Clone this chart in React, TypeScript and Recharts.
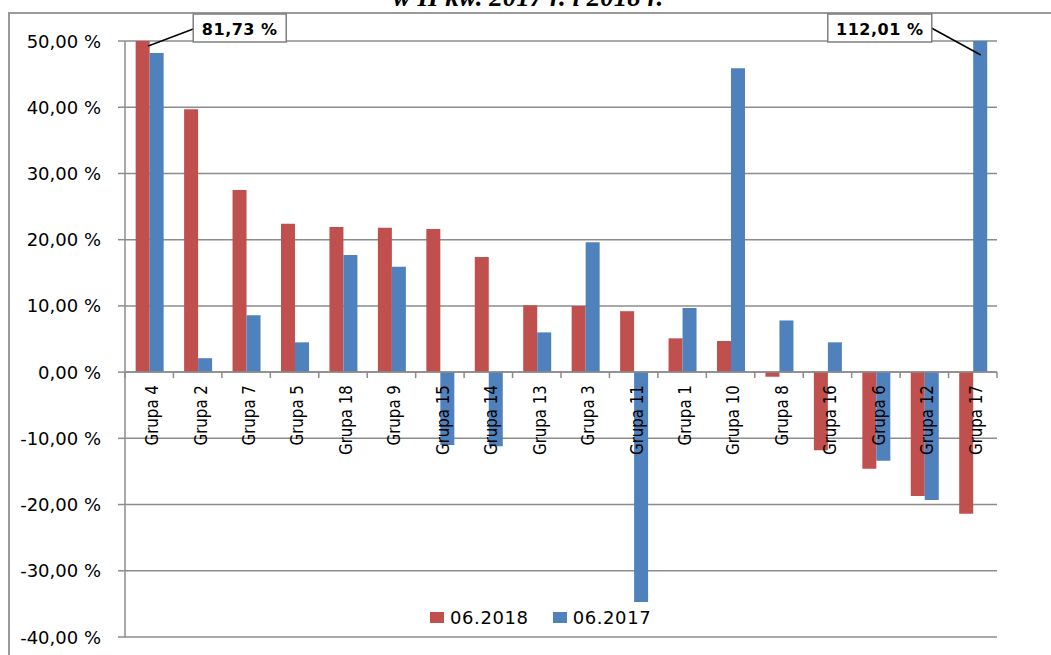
import React from "react";
import {
  BarChart,
  Bar,
  XAxis,
  YAxis,
  CartesianGrid,
  ReferenceLine,
  ReferenceDot,
} from "recharts";

const groups = [
  "Grupa 4", "Grupa 2", "Grupa 7", "Grupa 5", "Grupa 18", "Grupa 9",
  "Grupa 15", "Grupa 14", "Grupa 13", "Grupa 3", "Grupa 11", "Grupa 1",
  "Grupa 10", "Grupa 8", "Grupa 16", "Grupa 6", "Grupa 12", "Grupa 17",
];
const values2018 = [
  81.73, 39.7, 27.5, 22.4, 21.9, 21.8, 21.6, 17.4, 10.1, 10.0, 9.2, 5.1,
  4.7, -0.7, -11.8, -14.6, -18.7, -21.4,
];
const values2017 = [
  48.2, 2.1, 8.6, 4.5, 17.7, 15.9, -11.0, -11.2, 6.0, 19.6, -34.7, 9.7,
  45.9, 7.8, 4.5, -13.4, -19.3, 112.01,
];
const yTicks = [-40, -30, -20, -10, 0, 10, 20, 30, 40, 50];
const seriesNames = ["06.2018", "06.2017"];
const seriesColors = ["#C0504D", "#4F81BD"];

const Y_MIN = -40;
const Y_MAX = 50;
const W = 1051;
const H = 655;
const TOP = 41;
const BOTTOM = 16;
const X_AXIS_H = 2;
const RIGHT = 54;
const AXIS_W = 115;
const LEFT = 10;
const PLOT_H = H - TOP - BOTTOM - X_AXIS_H;
const ZERO_Y = TOP + (Y_MAX / (Y_MAX - Y_MIN)) * PLOT_H;
const BAND = (W - RIGHT - LEFT - AXIS_W) / groups.length;

const GRID = "#8c8c8c";
const FONT = "'DejaVu Sans', Verdana, sans-serif";

const data = groups.map((g, i) => ({
  name: g,
  v2018: values2018[i],
  v2017: values2017[i],
}));

const fmt = (v: number) => v.toFixed(2).replace(".", ",") + " %";

function renderCategoryTick(props: any) {
  const { x, payload, index } = props;
  const isLast = index === groups.length - 1;
  const tx = x + 3;
  const ty = ZERO_Y + 13;
  return (
    <g>
      <line x1={x - BAND / 2} x2={x - BAND / 2} y1={ZERO_Y} y2={ZERO_Y + 6} stroke={GRID} strokeWidth={1.5} />
      {isLast && (
        <line x1={x + BAND / 2} x2={x + BAND / 2} y1={ZERO_Y} y2={ZERO_Y + 6} stroke={GRID} strokeWidth={1.5} />
      )}
      <text
        x={0}
        y={0}
        transform={`translate(${tx}, ${ty}) scale(1.15, 1) rotate(-90)`}
        textAnchor="end"
        dominantBaseline="central"
        fontFamily={FONT}
        fontSize={15}
        fill="#000"
      >
        {payload.value}
      </text>
    </g>
  );
}

function renderValueTick(props: any) {
  const { x, y, payload } = props;
  return (
    <text
      x={x - 15}
      y={y}
      textAnchor="end"
      dominantBaseline="central"
      fontFamily={FONT}
      fontSize={18}
      fill="#000"
    >
      {fmt(payload.value)}
    </text>
  );
}

// callout box with a leader line, drawn from a ReferenceDot position
function Callout(props: any) {
  const { cx, cy, text, side } = props;
  const boxW = side === "right" ? 93 : 104;
  const boxH = 28;
  const bx = side === "right" ? cx + 44 : cx - 145;
  const by = cy - 27;
  const line =
    side === "right"
      ? { x1: cx - 1, y1: cy + 5, x2: bx, y2: cy - 12 }
      : { x1: bx + boxW - 4, y1: cy - 15, x2: cx + 8, y2: cy + 14 };
  return (
    <g>
      <line {...line} stroke="#000" strokeWidth={1.5} />
      <rect x={bx} y={by} width={boxW} height={boxH} fill="#fff" stroke="#7f7f7f" strokeWidth={1.5} />
      <text
        x={bx + boxW / 2}
        y={by + boxH / 2 + 1}
        textAnchor="middle"
        dominantBaseline="central"
        fontFamily={FONT}
        fontWeight="bold"
        fontSize={16}
        letterSpacing={0.5}
        fill="#000"
      >
        {text}
      </text>
    </g>
  );
}

export default function App() {
  return (
    <div style={{ position: "absolute", left: 0, top: 0, width: W, height: H, background: "#fff", overflow: "hidden" }}>
      <div
        style={{
          position: "absolute",
          left: 8,
          top: 12,
          width: W,
          height: H,
          borderLeft: "2px solid #9a9a9a",
          borderTop: "2px solid #9a9a9a",
        }}
      />
      <svg width={W} height={20} style={{ position: "absolute", left: 0, top: 0 }}>
        <text
          x={528}
          y={6}
          textAnchor="middle"
          fontFamily="'Liberation Serif', 'Times New Roman', serif"
          fontWeight="bold"
          fontStyle="italic"
          fontSize={27}
          fill="#000"
        >
          w II kw. 2017 r. i 2018 r.
        </text>
      </svg>
      <div style={{ position: "absolute", left: 0, top: 0 }}>
        <BarChart
          width={W}
          height={H}
          data={data}
          margin={{ top: TOP, right: RIGHT, bottom: BOTTOM, left: LEFT }}
          barCategoryGap="22%"
          barGap={0}
        >
          <CartesianGrid vertical={false} stroke={GRID} strokeWidth={1.5} />
          <XAxis
            dataKey="name"
            height={X_AXIS_H}
            axisLine={false}
            tickLine={false}
            interval={0}
            tick={renderCategoryTick}
          />
          <YAxis
            width={AXIS_W}
            domain={[Y_MIN, Y_MAX]}
            ticks={yTicks}
            allowDataOverflow
            axisLine={{ stroke: GRID, strokeWidth: 1.5 }}
            tickLine={{ stroke: GRID, strokeWidth: 1.5 }}
            tickSize={7}
            tick={renderValueTick}
          />
          <Bar dataKey="v2018" name={seriesNames[0]} fill={seriesColors[0]} isAnimationActive={false} />
          <Bar dataKey="v2017" name={seriesNames[1]} fill={seriesColors[1]} isAnimationActive={false} />
          <ReferenceLine y={0} stroke={GRID} strokeWidth={1.5} />
          <ReferenceDot
            x={groups[0]}
            y={Y_MAX}
            ifOverflow="visible"
            shape={(p: any) => <Callout {...p} text={fmt(values2018[0])} side="right" />}
          />
          <ReferenceDot
            x={groups[groups.length - 1]}
            y={Y_MAX}
            ifOverflow="visible"
            shape={(p: any) => <Callout {...p} text={fmt(values2017[values2017.length - 1])} side="left" />}
          />
        </BarChart>
      </div>
      <div
        style={{
          position: "absolute",
          left: 430,
          top: 607,
          display: "flex",
          gap: 24,
          fontFamily: FONT,
          fontSize: 18,
          letterSpacing: 0.6,
          color: "#000",
        }}
      >
        {seriesNames.map((n, i) => (
          <div key={n} style={{ display: "flex", alignItems: "center", gap: 6 }}>
            <div style={{ width: 14, height: 11, background: seriesColors[i] }} />
            <span>{n}</span>
          </div>
        ))}
      </div>
    </div>
  );
}
